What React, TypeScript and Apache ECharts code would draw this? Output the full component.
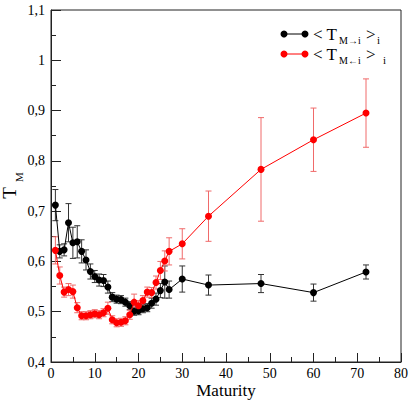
import React, { useEffect, useRef } from "react";
import * as echarts from "echarts";

// Maturity values where both averages were measured
const maturity = [
  1, 2, 3, 4, 5, 6, 7, 8, 9, 10, 11, 12, 13, 14, 15, 16, 17, 18, 19, 20, 21, 22,
  23, 24, 25, 26, 27, 30, 36, 48, 60, 72,
];

// <T M→i>_i : mean and error
const outMean = [
  0.712, 0.62, 0.623, 0.677, 0.637, 0.639, 0.62, 0.603, 0.58, 0.57, 0.563, 0.562,
  0.549, 0.529, 0.525, 0.524, 0.519, 0.512, 0.501, 0.502, 0.506, 0.508, 0.517,
  0.525, 0.542, 0.559, 0.544, 0.565, 0.553, 0.556, 0.538, 0.579,
];
const outErr = [
  0.031, 0.013, 0.012, 0.038, 0.031, 0.032, 0.023, 0.02, 0.015, 0.012, 0.012,
  0.012, 0.012, 0.009, 0.008, 0.008, 0.008, 0.008, 0.008, 0.008, 0.008, 0.008,
  0.01, 0.012, 0.014, 0.032, 0.017, 0.026, 0.02, 0.018, 0.017, 0.014,
];

// <T M←i>_i : mean and error
const inMean = [
  0.622, 0.572, 0.539, 0.544, 0.54, 0.508, 0.492, 0.492, 0.494, 0.496, 0.494,
  0.498, 0.507, 0.484, 0.478, 0.479, 0.482, 0.494, 0.519, 0.512, 0.522, 0.539,
  0.538, 0.558, 0.582, 0.601, 0.62, 0.635, 0.69, 0.783, 0.842, 0.895,
];
const inErr = [
  0.027, 0.017, 0.01, 0.012, 0.013, 0.01, 0.008, 0.008, 0.008, 0.008, 0.008,
  0.008, 0.012, 0.008, 0.008, 0.008, 0.008, 0.009, 0.016, 0.01, 0.01, 0.01, 0.01,
  0.013, 0.018, 0.02, 0.027, 0.03, 0.05, 0.103, 0.063, 0.068,
];

const SERIF = "Liberation Serif";

function errorSeries(mean: number[], err: number[], color: string) {
  return {
    type: "custom",
    silent: true,
    encode: { x: 0, y: [1, 2] },
    data: maturity.map((m, i) => [m, mean[i] - err[i], mean[i] + err[i]]),
    renderItem: (_params: any, api: any) => {
      const x = api.value(0);
      const top = api.coord([x, api.value(2)]);
      const bot = api.coord([x, api.value(1)]);
      const w = 3;
      const style = { stroke: color, lineWidth: 1 };
      return {
        type: "group",
        children: [
          { type: "line", shape: { x1: top[0], y1: top[1], x2: bot[0], y2: bot[1] }, style },
          { type: "line", shape: { x1: top[0] - w, y1: top[1], x2: top[0] + w, y2: top[1] }, style },
          { type: "line", shape: { x1: bot[0] - w, y1: bot[1], x2: bot[0] + w, y2: bot[1] }, style },
        ],
      };
    },
    z: 1,
  };
}

function txt(text: string, x: number, y: number, size: number, rotation = 0, align = "left") {
  return {
    type: "text",
    x,
    y,
    rotation,
    style: {
      text,
      fill: "#000",
      fontFamily: SERIF,
      fontSize: size,
      verticalAlign: "middle",
      align,
    },
  };
}

function legendEntry(y: number, color: string, sub: string, iOffset: number) {
  return [
    { type: "line", shape: { x1: 284, y1: y, x2: 305, y2: y }, style: { stroke: color, lineWidth: 1 } },
    { type: "circle", shape: { cx: 284, cy: y, r: 3.5 }, style: { fill: color } },
    { type: "circle", shape: { cx: 305, cy: y, r: 3.5 }, style: { fill: color } },
    txt("< T", 313, y, 17),
    txt(sub, 339, y + 6, 10),
    txt(">", 366, y, 17),
    txt("i", 377 + iOffset, y + 6, 11),
  ];
}

export default function App() {
  const ref = useRef<HTMLDivElement>(null);

  useEffect(() => {
    if (!ref.current) return;
    const chart = echarts.init(ref.current, undefined, { renderer: "svg" });

    const labelStyle = { color: "#000", fontFamily: SERIF, fontSize: 14 };

    chart.setOption({
      animation: false,
      backgroundColor: "#fff",
      textStyle: { fontFamily: SERIF },
      grid: {
        left: 51,
        right: 11,
        top: 10,
        bottom: 39,
        outerBoundsMode: "none",
        containLabel: false,
        show: true,
        borderColor: "#222",
        borderWidth: 1,
        backgroundColor: "transparent",
      },
      xAxis: {
        type: "value",
        min: 0,
        max: 80,
        interval: 10,
        axisLine: { lineStyle: { color: "#222", width: 1 } },
        axisTick: { inside: true, length: 9, lineStyle: { color: "#222" } },
        minorTick: { show: true, splitNumber: 2, length: 5, lineStyle: { color: "#222" } },
        splitLine: { show: false },
        axisLabel: { ...labelStyle, margin: 4 },
        name: "Maturity",
        nameLocation: "middle",
        nameGap: 20,
        nameMoveOverlap: false,
        nameTextStyle: { ...labelStyle, fontSize: 17 },
      },
      yAxis: {
        type: "value",
        min: 0.4,
        max: 1.1,
        interval: 0.1,
        axisLine: { show: true, lineStyle: { color: "#222", width: 1 } },
        axisTick: { show: true, inside: true, length: 10, lineStyle: { color: "#222" } },
        minorTick: { show: true, splitNumber: 2, length: 5, lineStyle: { color: "#222" } },
        splitLine: { show: false },
        axisLabel: {
          ...labelStyle,
          margin: 6,
          formatter: (v: number) => String(Math.round(v * 10) / 10).replace(".", ","),
        },
      },
      graphic: [
        // vertical title T with subscript M
        txt("T", 9.5, 193, 19, Math.PI / 2, "center"),
        txt("M", 19, 177, 11, Math.PI / 2, "center"),
        ...legendEntry(34, "#000", "M→i", 0),
        ...legendEntry(54, "#ff0000", "M←i", 6),
      ],
      series: [
        errorSeries(outMean, outErr, "#333"),
        errorSeries(inMean, inErr, "#f06a6a"),
        {
          type: "line",
          data: maturity.map((m, i) => [m, outMean[i]]),
          symbol: "circle",
          symbolSize: 7,
          lineStyle: { color: "#000", width: 1 },
          itemStyle: { color: "#000" },
          z: 3,
        },
        {
          type: "line",
          data: maturity.map((m, i) => [m, inMean[i]]),
          symbol: "circle",
          symbolSize: 7,
          lineStyle: { color: "#ff0000", width: 1 },
          itemStyle: { color: "#ff0000" },
          z: 4,
        },
      ],
    });

    return () => chart.dispose();
  }, []);

  return (
    <div
      ref={ref}
      style={{ position: "fixed", left: 0, top: 0, width: 412, height: 401, background: "#fff" }}
    />
  );
}
